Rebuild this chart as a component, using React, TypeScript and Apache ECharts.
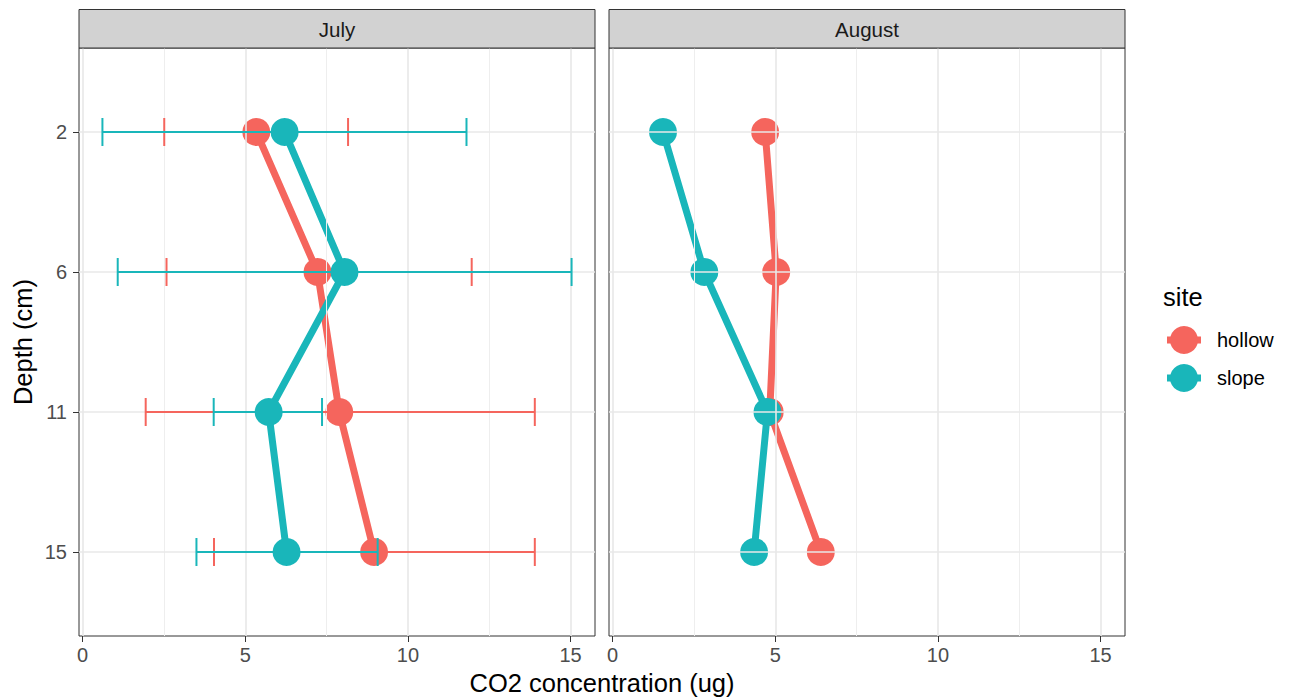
import React, { useEffect, useRef } from "react";
import * as echarts from "echarts";

// ---- data ----
const depthLabels = ["2", "6", "11", "15"];
const depthIndex = [1, 2, 3, 4];
const months = ["July", "August"];
const siteNames = ["hollow", "slope"];
const siteColors = ["#F5655D", "#19B6BA"];

const julyHollow = [5.34, 7.22, 7.89, 8.96];
const julySlope = [6.21, 8.05, 5.72, 6.27];
const julyHollowLow = [2.51, 2.58, 1.94, 4.04];
const julyHollowHigh = [8.16, 11.96, 13.9, 13.9];
const julySlopeLow = [0.61, 1.08, 4.03, 3.5];
const julySlopeHigh = [11.8, 15.03, 7.36, 9.07];

const augHollow = [4.69, 5.03, 4.83, 6.4];
const augSlope = [1.55, 2.82, 4.76, 4.35];

const xTicks = [0, 5, 10, 15];
const xMinorTicks = [2.5, 7.5, 12.5];

const FONT = "'Liberation Sans', Arial, Helvetica, sans-serif";

const PANEL_TOP = 48;
const PANEL_H = 588;
const PANEL_W = 516;
const PANEL_LEFTS = [79, 609];

function App() {
  const ref = useRef<HTMLDivElement>(null);

  useEffect(() => {
    if (!ref.current) return;
    const chart = echarts.init(ref.current, null, { renderer: "svg" });

    const grids = PANEL_LEFTS.map((left) => ({
      left,
      top: PANEL_TOP,
      width: PANEL_W,
      height: PANEL_H,
      show: true,
      backgroundColor: "#FFFFFF",
      borderColor: "#333333",
      borderWidth: 1,
      containLabel: false,
    }));

    const xAxes = PANEL_LEFTS.map((_, gi) => ({
      type: "value",
      gridIndex: gi,
      min: -0.11,
      max: 15.75,
      axisLine: { show: false, onZero: false },
      axisTick: {
        show: true,
        customValues: xTicks,
        length: 6,
        lineStyle: { color: "#333333", width: 1 },
      },
      axisLabel: {
        show: true,
        customValues: xTicks,
        color: "#4D4D4D",
        fontSize: 20,
        fontFamily: FONT,
        margin: 9,
      },
      splitLine: { show: false },
    }));

    const yAxes = PANEL_LEFTS.map((_, gi) => ({
      type: "value",
      gridIndex: gi,
      inverse: true,
      min: 0.4,
      max: 4.6,
      axisLine: { show: false, onZero: false },
      axisTick: {
        show: gi === 0,
        customValues: depthIndex,
        length: 6,
        lineStyle: { color: "#333333", width: 1 },
      },
      axisLabel: {
        show: gi === 0,
        customValues: depthIndex,
        formatter: (v: number) => depthLabels[Math.round(v) - 1] ?? "",
        color: "#4D4D4D",
        fontSize: 20,
        fontFamily: FONT,
        margin: 12,
      },
      splitLine: { show: false },
    }));

    const gridLineSeries = PANEL_LEFTS.map((_, gi) => ({
      type: "line",
      name: "grid" + gi,
      xAxisIndex: gi,
      yAxisIndex: gi,
      data: [],
      z: 1,
      silent: true,
      markLine: {
        silent: true,
        symbol: ["none", "none"],
        label: { show: false },
        animation: false,
        emphasis: { disabled: true },
        data: [
          ...xMinorTicks.map((v) => ({
            xAxis: v,
            lineStyle: { color: "#EEEEEE", width: 1, type: "solid" },
          })),
          ...xTicks.map((v) => ({
            xAxis: v,
            lineStyle: { color: "#E8E8E8", width: 1.6, type: "solid" },
          })),
          ...depthIndex.map((v) => ({
            yAxis: v,
            lineStyle: { color: "#E8E8E8", width: 1.6, type: "solid" },
          })),
        ],
      },
    }));

    const lineSeries = (
      name: string,
      color: string,
      values: number[],
      gi: number
    ) => ({
      type: "line",
      name,
      xAxisIndex: gi,
      yAxisIndex: gi,
      data: values.map((v, i) => [v, depthIndex[i]]),
      symbol: "circle",
      symbolSize: 28,
      showSymbol: true,
      z: 3,
      lineStyle: { color, width: 7 },
      itemStyle: { color },
      emphasis: { disabled: true },
      silent: true,
    });

    const errorSeries = (
      name: string,
      color: string,
      lows: number[],
      highs: number[],
      gi: number
    ) => ({
      type: "custom",
      name: name + " error",
      xAxisIndex: gi,
      yAxisIndex: gi,
      z: 5,
      silent: true,
      data: lows.map((lo, i) => [lo, highs[i], depthIndex[i]]),
      encode: { x: [0, 1], y: 2 },
      renderItem: (_params: any, api: any) => {
        const lo = api.value(0);
        const hi = api.value(1);
        const y = api.value(2);
        const pLo = api.coord([lo, y]);
        const pHi = api.coord([hi, y]);
        const capA = api.coord([lo, y - 0.1]);
        const capB = api.coord([lo, y + 0.1]);
        const style = { stroke: color, lineWidth: 2, fill: "none" };
        return {
          type: "group",
          children: [
            {
              type: "line",
              shape: { x1: pLo[0], y1: pLo[1], x2: pHi[0], y2: pHi[1] },
              style,
            },
            {
              type: "line",
              shape: { x1: pLo[0], y1: capA[1], x2: pLo[0], y2: capB[1] },
              style,
            },
            {
              type: "line",
              shape: { x1: pHi[0], y1: capA[1], x2: pHi[0], y2: capB[1] },
              style,
            },
          ],
        };
      },
    });

    const series: any[] = [
      ...gridLineSeries,
      lineSeries(siteNames[0], siteColors[0], julyHollow, 0),
      lineSeries(siteNames[1], siteColors[1], julySlope, 0),
      lineSeries(siteNames[0], siteColors[0], augHollow, 1),
      lineSeries(siteNames[1], siteColors[1], augSlope, 1),
      errorSeries(siteNames[0], siteColors[0], julyHollowLow, julyHollowHigh, 0),
      errorSeries(siteNames[1], siteColors[1], julySlopeLow, julySlopeHigh, 0),
    ];

    const stripElems: any[] = [];
    PANEL_LEFTS.forEach((left, i) => {
      stripElems.push({
        type: "rect",
        shape: { x: left, y: 9.5, width: PANEL_W, height: PANEL_TOP - 9.5 },
        style: { fill: "#D2D2D2", stroke: "#333333", lineWidth: 1 },
        z: 10,
      });
      stripElems.push({
        type: "text",
        x: left + PANEL_W / 2,
        y: 29,
        style: {
          text: months[i],
          fontSize: 20.5,
          fontFamily: FONT,
          fill: "#1A1A1A",
          align: "center",
          verticalAlign: "middle",
        },
        z: 11,
      });
    });

    const legendElems: any[] = [
      {
        type: "text",
        x: 1163,
        y: 297,
        style: {
          text: "site",
          fontSize: 25.5,
          fontFamily: FONT,
          fill: "#000000",
          align: "left",
          verticalAlign: "middle",
        },
      },
    ];
    const legendY = [340, 378];
    siteNames.forEach((name, i) => {
      const cy = legendY[i];
      legendElems.push({
        type: "line",
        shape: { x1: 1167, y1: cy, x2: 1201, y2: cy },
        style: { stroke: siteColors[i], lineWidth: 7 },
      });
      legendElems.push({
        type: "circle",
        shape: { cx: 1184, cy, r: 14 },
        style: { fill: siteColors[i] },
      });
      legendElems.push({
        type: "text",
        x: 1217,
        y: cy,
        style: {
          text: name,
          fontSize: 20,
          fontFamily: FONT,
          fill: "#000000",
          align: "left",
          verticalAlign: "middle",
        },
      });
    });

    const titleElems: any[] = [
      {
        type: "text",
        x: (PANEL_LEFTS[0] + PANEL_LEFTS[1] + PANEL_W) / 2,
        y: 683,
        style: {
          text: "CO2 concentration (ug)",
          fontSize: 25.5,
          fontFamily: FONT,
          fill: "#000000",
          align: "center",
          verticalAlign: "middle",
        },
      },
      {
        type: "text",
        x: 23,
        y: PANEL_TOP + PANEL_H / 2,
        rotation: Math.PI / 2,
        style: {
          text: "Depth (cm)",
          fontSize: 25.5,
          fontFamily: FONT,
          fill: "#000000",
          align: "center",
          verticalAlign: "middle",
        },
      },
    ];

    chart.setOption({
      animation: false,
      backgroundColor: "#FFFFFF",
      textStyle: { fontFamily: FONT },
      grid: grids,
      xAxis: xAxes,
      yAxis: yAxes,
      series,
      graphic: [...stripElems, ...legendElems, ...titleElems],
    } as any);

    return () => chart.dispose();
  }, []);

  return (
    <div
      ref={ref}
      style={{ position: "absolute", left: 0, top: 0, width: 1289, height: 700 }}
    />
  );
}

export default App;
